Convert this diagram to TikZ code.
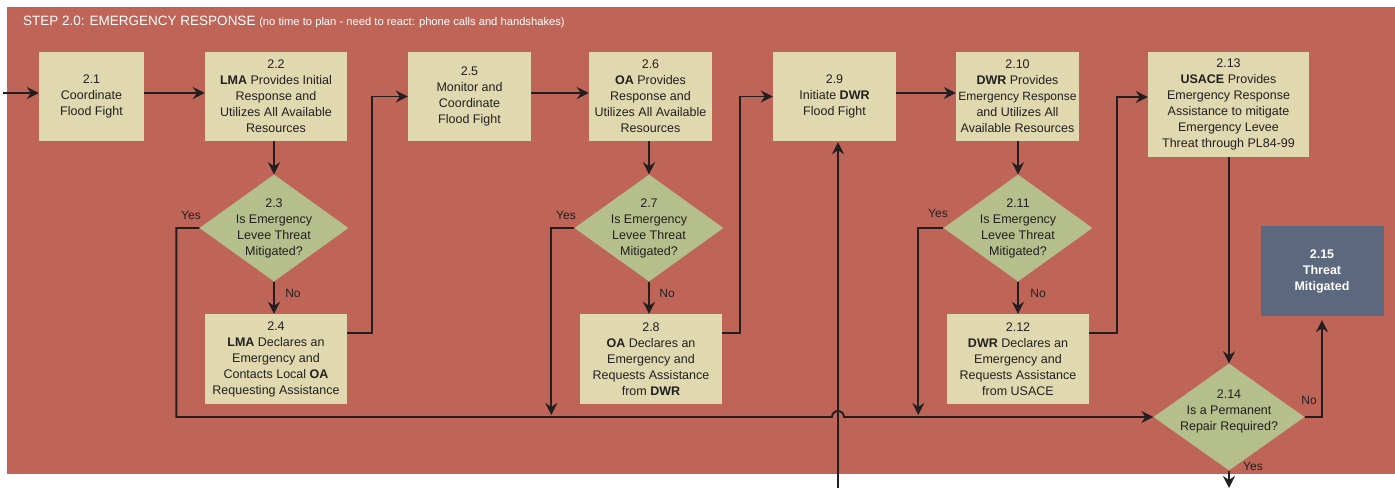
\documentclass[tikz,border=0pt]{standalone}
\usepackage{fontspec}
\setmainfont{Liberation Sans}
\usetikzlibrary{arrows.meta,shapes.geometric,calc}
\definecolor{bgred}{HTML}{BE6558}
\definecolor{boxfill}{HTML}{E0D9B0}
\definecolor{decfill}{HTML}{B4BF8B}
\definecolor{endfill}{HTML}{5B687E}
\definecolor{ink}{HTML}{231F20}
\begin{document}
\begin{tikzpicture}[x=1pt,y=1pt,
  proc/.style={rectangle, fill=boxfill, draw=none, inner sep=0pt, align=center, text=ink, font=\fontsize{12.5}{16}\selectfont},
  dec/.style={diamond, fill=decfill, draw=none, inner sep=0pt, minimum width=149pt, minimum height=107pt},
  dectext/.style={align=center, text=ink, inner sep=0pt, font=\fontsize{12.5}{16}\selectfont},
  term/.style={rectangle, fill=endfill, inner sep=0pt, align=center, text=white, font=\bfseries\fontsize{12.5}{16}\selectfont},
  wire/.style={draw=ink, line width=1.9pt, -{Stealth[length=12pt,width=12pt,inset=4pt]}},
  lbl/.style={text=ink, font=\fontsize{12}{14}\selectfont, inner sep=0pt}
]
\useasboundingbox (0,0) rectangle (1395,488);
\fill[bgred] (7,14) rectangle (1395,481);
\node[anchor=base west, text=white, inner sep=0pt] (title) at (23,462)
  {\fontsize{13.5}{16}\selectfont STEP 2.0: EMERGENCY RESPONSE \fontsize{11.2}{13}\selectfont(no time to plan - need to react: phone calls and handshakes)};

% process boxes
\node[proc, minimum width=105pt, minimum height=89pt] (n21) at (91.5,391.5) {2.1\\Coordinate\\Flood Fight};
\node[proc, minimum width=142pt, minimum height=89pt] (n22) at (276,391.5) {2.2\\\textbf{LMA} Provides Initial\\Response and\\Utilizes All Available\\Resources};
\node[proc, minimum width=123pt, minimum height=89pt] (n25) at (469.5,391.5) {2.5\\Monitor and\\Coordinate\\Flood Fight};
\node[proc, minimum width=123pt, minimum height=89pt] (n26) at (650.5,391.5) {2.6\\\textbf{OA} Provides\\Response and\\Utilizes All Available\\Resources};
\node[proc, minimum width=123pt, minimum height=89pt] (n29) at (834.5,391.5) {2.9\\Initiate \textbf{DWR}\\Flood Fight};
\node[proc, minimum width=123pt, minimum height=89pt] (n210) at (1017.5,391.5) {2.10\\\textbf{DWR} Provides\\{\fontsize{12}{16}\selectfont Emergency Response}\\and Utilizes All\\Available Resources};
\node[proc, minimum width=161pt, minimum height=105pt] (n213) at (1228.5,383.5) {2.13\\\textbf{USACE} Provides\\Emergency Response\\Assistance to mitigate\\Emergency Levee\\Threat through PL84-99};
\node[proc, minimum width=142pt, minimum height=90pt] (n24) at (276,129) {2.4\\\textbf{LMA} Declares an\\Emergency and\\Contacts Local \textbf{OA}\\Requesting Assistance};
\node[proc, minimum width=142pt, minimum height=90pt] (n28) at (651,129) {2.8\\\textbf{OA} Declares an\\Emergency and\\Requests Assistance\\from \textbf{DWR}};
\node[proc, minimum width=142pt, minimum height=90pt] (n212) at (1018,129) {2.12\\\textbf{DWR} Declares an\\Emergency and\\Requests Assistance\\from USACE};
\node[term, minimum width=123pt, minimum height=90pt] (n215) at (1322,217) {2.15\\Threat\\Mitigated};

% decisions
\node[dec] (d23) at (274,260) {};
\node[dectext] (t23) at (d23) {2.3\\Is Emergency\\Levee Threat\\Mitigated?};
\node[dec] (d27) at (649,260) {};
\node[dectext] (t27) at (d27) {2.7\\Is Emergency\\Levee Threat\\Mitigated?};
\node[dec] (d211) at (1018,260) {};
\node[dectext] (t211) at (d211) {2.11\\Is Emergency\\Levee Threat\\Mitigated?};
\node[dec, minimum width=151pt] (d214) at (1229,71) {};
\node[dectext] (t214) at ([yshift=6pt]d214.center) {2.14\\Is a Permanent\\Repair Required?};

% free ends
\coordinate (entry) at (3,395);
\coordinate (bottomin) at (838,0);
\coordinate (hline) at (0,71);
\coordinate (hop) at (838,71);

% connectors
\draw[wire] (entry) -- (entry -| n21.west);
\draw[wire] ([yshift=3.5pt]n21.east) -- ([yshift=3.5pt]n22.west);
\draw[wire] (d23.north |- n22.south) -- (d23.north);
\draw[wire] (d23.south) -- (d23.south |- n24.north);
\draw[wire] ([yshift=26pt]n24.east) -- ++(25,0) |- (n25.west);
\draw[wire] ([yshift=3.5pt]n25.east) -- ([yshift=3.5pt]n26.west);
\draw[wire] (d27.north |- n26.south) -- (d27.north);
\draw[wire] (d27.south) -- (d27.south |- n28.north);
\draw[wire] ([yshift=26pt]n28.east) -- ++(18,0) |- (n29.west);
\draw[wire] ([yshift=3.5pt]n29.east) -- ([yshift=3.5pt]n210.west);
\draw[wire] (d211.north |- n210.south) -- (d211.north);
\draw[wire] (d211.south) -- (d211.south |- n212.north);
\draw[wire] ([yshift=26pt]n212.east) -- ++(28,0) |- ([yshift=7.5pt]n213.west);
\draw[wire] (d214.north |- n213.south) -- (d214.north);
\draw[wire] (d214.east) -| ([yshift=-4pt]n215.south);
\draw[wire] (d214.south) -- (d214.south |- 0,0);
\draw[wire] (bottomin) -- ([yshift=-1pt]bottomin |- n29.south);
\draw[wire] (d23.west) -- ++(-23,0) |- ([xshift=-6pt]hop) arc[start angle=180,end angle=0,radius=6pt] -- (d214.west);
\draw[wire] (d27.west) -| ([xshift=-23pt,yshift=2pt]d27.west |- hline);
\draw[wire] (d211.west) -| ([xshift=-25pt,yshift=2pt]d211.west |- hline);

% labels
\node[lbl] (y23) at (191,273) {Yes};
\node[lbl] (no23) at (293,195) {No};
\node[lbl] (y27) at (566,273) {Yes};
\node[lbl] (no27) at (667,195) {No};
\node[lbl] (y211) at (938,275) {Yes};
\node[lbl] (no211) at (1038,195) {No};
\node[lbl] (no214) at (1309,88) {No};
\node[lbl] (y214) at (1253,22) {Yes};
\end{tikzpicture}
\end{document}
